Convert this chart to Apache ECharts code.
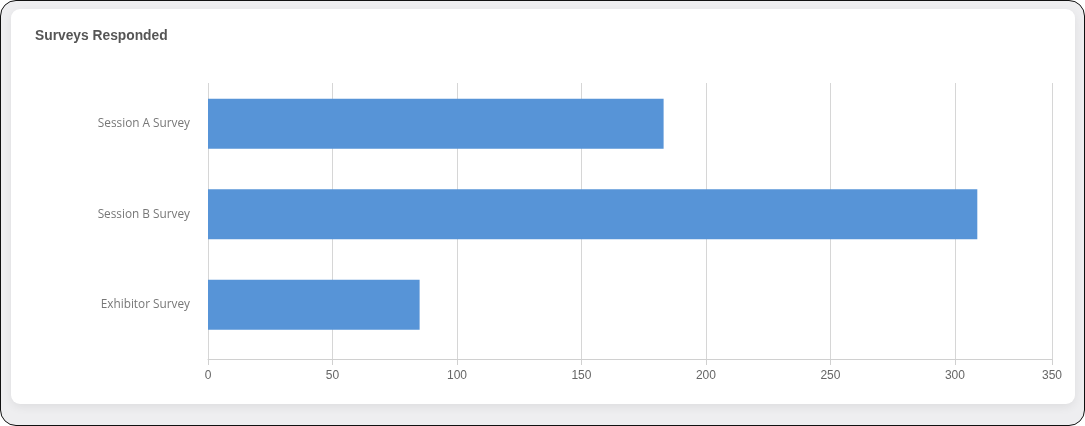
<!DOCTYPE html>
<html>
<head>
<meta charset="utf-8">
<script src="https://cdn.jsdelivr.net/npm/echarts@6/dist/echarts.min.js"></script>
<style>
  html, body { margin: 0; padding: 0; }
  body { width: 1085px; height: 426px; overflow: hidden; }
  #frame { position: absolute; left: 0; top: 0; width: 1085px; height: 426px; box-sizing: border-box;
           border: 1px solid #111; border-radius: 16px; background: #eeeef0; overflow: hidden; }
  #card { position: absolute; left: 10px; top: 8px; width: 1064px; height: 395px; background: #fff;
          border-radius: 9px; box-shadow: 0 3px 10px rgba(0,0,0,0.07); }
  #chart { position: absolute; left: 0; top: 0; width: 1085px; height: 426px; }
</style>
</head>
<body>
<div id="frame"><div id="card"></div></div>
<div id="chart"></div>
<script>
const categories = ['Session A Survey', 'Session B Survey', 'Exhibitor Survey'];
const responses = [183, 309, 85];
const tickLabels = ['0', '50', '100', '150', '200', '250', '300', '350'];
const axisMax = 339;

const chart = echarts.init(document.getElementById('chart'), null, { renderer: 'canvas' });
chart.setOption({
  animation: false,
  backgroundColor: 'transparent',
  title: {
    text: 'Surveys Responded',
    left: 30, top: 24,
    textStyle: { fontFamily: 'Liberation Sans, Arial, sans-serif', fontSize: 13.8, fontWeight: 'bold', color: '#555' }
  },
  grid: [
    { left: 208, right: 33, top: 83, height: 276 },
    { left: 208, right: 33, top: 78.5, height: 271.5 }
  ],
  xAxis: [
    {
      gridIndex: 0, type: 'value', min: 0, max: axisMax, interval: 50,
      axisLine: { show: true, lineStyle: { color: '#d0d0d0', width: 1 } },
      axisTick: { show: true, length: 6, lineStyle: { color: '#d0d0d0' } },
      splitLine: { show: true, lineStyle: { color: '#d6d6d6', width: 1 } },
      axisLabel: {
        margin: 11, fontFamily: 'Liberation Sans, Arial, sans-serif', fontSize: 12, color: '#666',
        showMaxLabel: true,
        formatter: function (v, i) { return tickLabels[i]; }
      }
    },
    { gridIndex: 1, type: 'value', min: 0, max: axisMax, show: false, splitLine: { show: false } }
  ],
  yAxis: [
    { gridIndex: 0, type: 'value', show: false, splitLine: { show: false } },
    {
      gridIndex: 1, type: 'category', data: categories, inverse: true,
      axisLine: { show: false }, axisTick: { show: false }, splitLine: { show: false },
      axisLabel: { margin: 18, fontFamily: 'Open Sans, sans-serif', fontSize: 11.8, color: '#777' }
    }
  ],
  series: [{
    type: 'bar', xAxisIndex: 1, yAxisIndex: 1, data: responses,
    barWidth: 50, itemStyle: { color: '#5794d7' }
  }]
});
</script>
</body>
</html>
